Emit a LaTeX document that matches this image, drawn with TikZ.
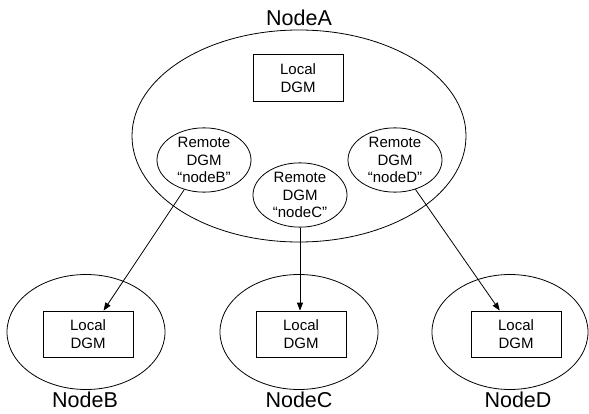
\documentclass[tikz,border=0pt]{standalone}
\usepackage{fontspec}
\setmainfont{Liberation Sans}
\usetikzlibrary{shapes.geometric,arrows.meta}
\begin{document}
\begin{tikzpicture}[x=1pt,y=-1pt,
  line width=0.8pt,
  txt/.style={font=\fontsize{15}{17.5}\selectfont, align=center},
  biglabel/.style={font=\fontsize{21.5}{24}\selectfont, inner sep=0pt},
  dgmbox/.style={draw, rectangle, minimum width=90pt, minimum height=47pt, inner sep=0pt, txt},
  remote/.style={draw, ellipse, minimum width=94pt, inner sep=0pt, txt},
  host/.style={draw, ellipse, inner sep=0pt},
  conn/.style={-{Triangle[length=8pt,width=6pt]}}
]
\useasboundingbox (0,0) rectangle (589,414);
% NodeA
\node[host, minimum width=334pt, minimum height=212pt] (A) at (299,136) {};
\node[biglabel] (Alab) at (299,17.5) {NodeA};
\node[dgmbox] (lA) at (298,78) {Local\\DGM};
\node[remote, minimum height=55pt] (rB) at (204,160) {Remote\\DGM\\“nodeB”};
\node[remote, minimum height=62pt] (rC) at (300,195) {Remote\\DGM\\“nodeC”};
\node[remote, minimum height=58pt] (rD) at (395,160) {Remote\\DGM\\“nodeD”};
% bottom hosts
\node[host, minimum width=158pt, minimum height=115pt] (B) at (86,332) {};
\node[host, minimum width=158pt, minimum height=115pt] (C) at (299,332) {};
\node[host, minimum width=156pt, minimum height=115pt] (D) at (510,332) {};
\node[dgmbox, minimum height=46pt] (lB) at (88,334) {Local\\DGM};
\node[dgmbox, minimum height=46pt] (lC) at (301,334) {Local\\DGM};
\node[dgmbox, minimum height=46pt] (lD) at (516,334) {Local\\DGM};
\node[biglabel] (Blab) at (85,400) {NodeB};
\node[biglabel] (Clab) at (299,400) {NodeC};
\node[biglabel] (Dlab) at (518,400) {NodeD};
% connectors
\draw[conn] (rB) -- (lB);
\draw[conn] (rC.south) -- (rC.south |- lC.north);
\draw[conn] (rD) -- (lD);
\end{tikzpicture}
\end{document}
